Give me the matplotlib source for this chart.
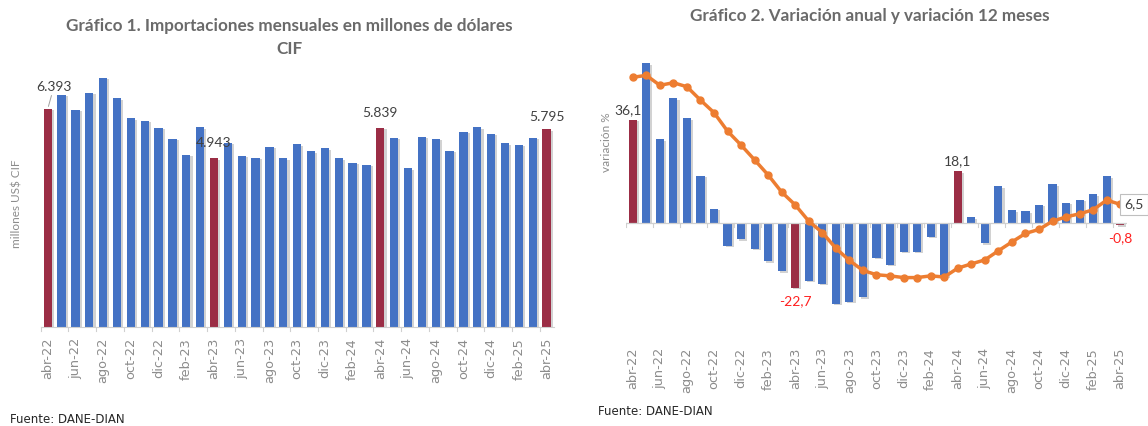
import matplotlib
matplotlib.use("Agg")
from matplotlib import pyplot as plt
import matplotlib.patheffects as pe

months = ["abr-22", "may-22", "jun-22", "jul-22", "ago-22", "sep-22", "oct-22", "nov-22", "dic-22",
          "ene-23", "feb-23", "mar-23", "abr-23", "may-23", "jun-23", "jul-23", "ago-23", "sep-23",
          "oct-23", "nov-23", "dic-23", "ene-24", "feb-24", "mar-24", "abr-24", "may-24", "jun-24",
          "jul-24", "ago-24", "sep-24", "oct-24", "nov-24", "dic-24", "ene-25", "feb-25", "mar-25",
          "abr-25"]

# Gráfico 1: importaciones mensuales (millones US$ CIF)
imports = [6393, 6805, 6364, 6873, 7313, 6708, 6121, 6041, 5845,
           5513, 5043, 5860, 4943, 5402, 5012, 4955, 5285, 4950,
           5363, 5158, 5236, 4950, 4817, 4748, 5839, 5548, 4651,
           5580, 5522, 5169, 5727, 5856, 5660, 5385, 5336, 5551,
           5795]

# Gráfico 2: variación anual (barras) y variación 12 meses (línea)
var_anual = [36.1, 56.0, 29.3, 43.7, 36.7, 16.5, 4.9, -8.0, -5.8,
             -9.0, -13.5, -17.0, -22.7, -20.3, -21.3, -28.4, -27.6, -26.1,
             -12.3, -14.7, -10.1, -10.1, -4.8, -19.0, 18.1, 2.0, -7.2,
             12.9, 4.4, 4.0, 6.3, 13.6, 7.1, 8.0, 10.1, 16.3,
             -0.8]
var_12m = [51.1, 51.8, 48.3, 49.2, 47.8, 43.1, 38.7, 32.2, 27.3,
           22.1, 16.8, 10.8, 6.3, 0.6, -3.4, -8.9, -13.2, -16.7,
           -18.2, -18.6, -19.2, -19.2, -18.6, -19.0, -15.9, -14.4, -13.0,
           -9.8, -6.7, -3.7, -2.3, 0.6, 2.1, 3.2, 4.6, 8.0,
           6.5]

BLUE = "#4472C4"
RED = "#9B2D45"
ORANGE = "#ED7D31"
GRAY_TXT = "#6A6A6A"
AXIS_GRAY = "#D0D0D0"
TICK_GRAY = "#8C8C8C"

plt.rcParams["font.family"] = ["Lato", "DejaVu Sans"]

x = list(range(len(months)))
colors = [RED if m.startswith("abr") else BLUE for m in months]
shadow = [pe.SimplePatchShadow(offset=(1.5, -1), shadow_rgbFace="#808080", alpha=0.35), pe.Normal()]

fig = plt.figure(figsize=(11.48, 4.26), dpi=100)

# ---------- Gráfico 1 ----------
ax1 = fig.add_axes([0.0355, 0.233, 0.4467, 0.6394])
bars = ax1.bar(x, imports, width=0.6, color=colors)
for b in bars:
    b.set_path_effects(shadow)
ax1.set_xlim(-0.5, len(months) - 0.5)
ax1.set_ylim(0, 8000)
for s in ["top", "right", "left"]:
    ax1.spines[s].set_visible(False)
ax1.spines["bottom"].set_color(AXIS_GRAY)
ax1.set_yticks([])
ax1.set_xticks(x[::2])
ax1.set_xticklabels(months[::2], rotation=90, fontsize=9.3, color=TICK_GRAY, family=["DejaVu Sans"])
ax1.tick_params(axis="x", length=0, pad=8)
for i in x[::2]:
    ax1.plot([i - 0.5, i - 0.5], [0, -130], color=AXIS_GRAY, lw=0.8, clip_on=False)
ax1.set_ylabel("millones US$ CIF", fontsize=8.5, color=TICK_GRAY)
ax1.yaxis.set_label_coords(-0.035, 0.45)

lab_kw = dict(fontsize=10, color="#404040", ha="center", va="bottom")
ax1.annotate("6.393", xy=(0, imports[0]), xytext=(0.45, imports[0] + 480), fontsize=10,
             color="#404040", ha="center", va="bottom",
             arrowprops=dict(arrowstyle="-", color="#A0A0A0", lw=0.7, shrinkA=0, shrinkB=2))
ax1.text(12, imports[12] + 270, "4.943", **lab_kw)
ax1.text(24, imports[24] + 250, "5.839", **lab_kw)
ax1.text(36, imports[36] + 180, "5.795", **lab_kw)

fig.text(0.252, 0.94, "Gráfico 1. Importaciones mensuales en millones de dólares",
         ha="center", va="center", fontsize=12.3, color=GRAY_TXT, weight="bold")
fig.text(0.252, 0.885, "CIF", ha="center", va="center", fontsize=12.3, color=GRAY_TXT, weight="bold")
fig.text(0.009, 0.015, "Fuente: DANE-DIAN", ha="left", va="center", fontsize=8.5, color="#262626",
         family=["DejaVu Sans"])

# ---------- Gráfico 2 ----------
ax2 = fig.add_axes([0.5453, 0.216, 0.4364, 0.662])
bars2 = ax2.bar(x, var_anual, width=0.6, color=colors)
for b in bars2:
    b.set_path_effects(shadow)
ax2.plot(x, var_12m, color=ORANGE, lw=2.5, marker="o", markersize=5, zorder=3)
ax2.set_xlim(-0.5, len(months) - 0.5)
ax2.set_ylim(-39, 60)
for s in ["top", "right", "left", "bottom"]:
    ax2.spines[s].set_visible(False)
ax2.axhline(0, color=AXIS_GRAY, lw=0.9, zorder=1)
for i in x[::2]:
    ax2.plot([i - 0.5, i - 0.5], [0, -1.4], color=AXIS_GRAY, lw=0.8)
ax2.set_yticks([])
ax2.set_xticks(x[::2])
ax2.set_xticklabels(months[::2], rotation=90, fontsize=9.3, color=TICK_GRAY, family=["DejaVu Sans"])
ax2.tick_params(axis="x", length=0, pad=10)
ax2.set_ylabel("variación %", fontsize=8.5, color=TICK_GRAY)
ax2.yaxis.set_label_coords(-0.028, 0.68)

ax2.text(-0.35, var_anual[0] + 1.5, "36,1", fontsize=10, color="#404040", ha="center", va="bottom")
ax2.text(24, var_anual[24] + 1.5, "18,1", fontsize=10, color="#404040", ha="center", va="bottom")
ax2.text(12, var_anual[12] - 2.5, "-22,7", fontsize=10, color="#FF2020", ha="center", va="top")
ax2.text(36, var_anual[36] - 2.5, "-0,8", fontsize=10, color="#FF2020", ha="center", va="top")
ax2.text(37.0, var_12m[36], "6,5", fontsize=10, color="#404040", ha="center", va="center",
         bbox=dict(boxstyle="square,pad=0.3", fc="white", ec="#BFBFBF", lw=0.8), zorder=4)

fig.text(0.758, 0.962, "Gráfico 2. Variación anual y variación 12 meses",
         ha="center", va="center", fontsize=12.3, color=GRAY_TXT, weight="bold")
fig.text(0.521, 0.035, "Fuente: DANE-DIAN", ha="left", va="center", fontsize=8.5, color="#262626",
         family=["DejaVu Sans"])

fig.savefig("out.png", dpi=100)
